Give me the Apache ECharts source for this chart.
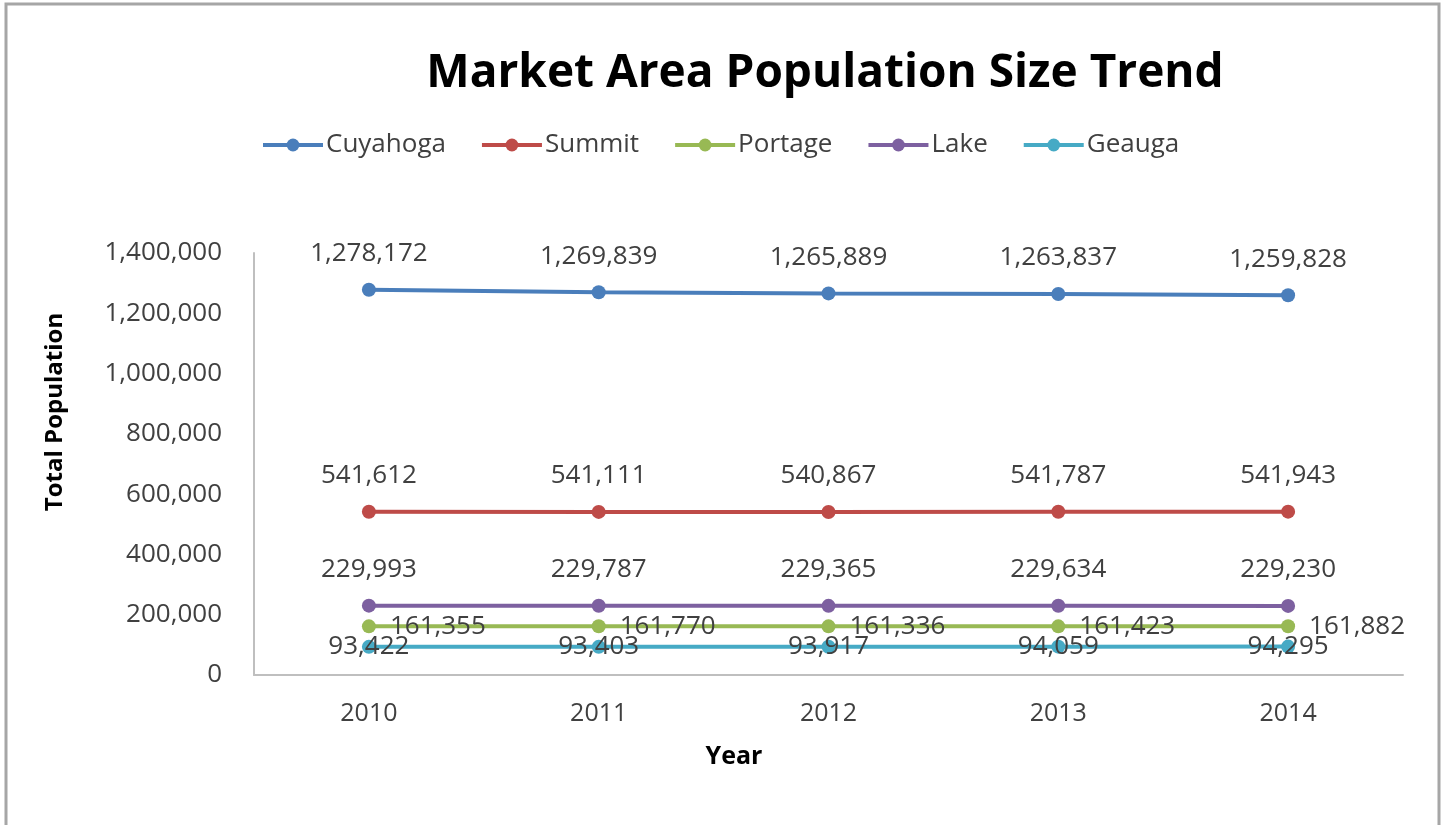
<!DOCTYPE html>
<html>
<head>
<meta charset="utf-8">
<script src="https://cdn.jsdelivr.net/npm/echarts@6/dist/echarts.min.js"></script>
<style>
html,body{margin:0;padding:0;background:#fff;}
#chart{width:1445px;height:825px;}
</style>
</head>
<body>
<div id="chart"></div>
<script>
const years = ['2010', '2011', '2012', '2013', '2014'];
const cuyahoga = [1278172, 1269839, 1265889, 1263837, 1259828];
const summit = [541612, 541111, 540867, 541787, 541943];
const portage = [161355, 161770, 161336, 161423, 161882];
const lake = [229993, 229787, 229365, 229634, 229230];
const geauga = [93422, 93403, 93917, 94059, 94295];
const yTicks = [0, 200000, 400000, 600000, 800000, 1000000, 1200000, 1400000];

const FONT = 'Open Sans';
const fmt = v => v.toLocaleString('en-US');

function mk(name, data, color, pos, dist) {
  return {
    name: name,
    type: 'line',
    data: data,
    symbol: 'circle',
    symbolSize: 14,
    lineStyle: { width: 4, color: color },
    itemStyle: { color: color },
    label: {
      show: true,
      position: pos,
      distance: dist,
      formatter: p => fmt(p.value),
      fontFamily: FONT,
      fontSize: 26,
      color: '#404040'
    },
    emphasis: { disabled: true },
    animation: false
  };
}

const chart = echarts.init(document.getElementById('chart'));
chart.setOption({
  animation: false,
  title: {
    text: 'Market Area Population Size Trend',
    left: 820,
    textAlign: 'center',
    top: 46,
    textStyle: { fontFamily: FONT, fontSize: 46, fontWeight: 'bold', color: '#000' }
  },
  legend: {
    top: 127,
    left: 256,
    itemWidth: 60,
    itemHeight: 16,
    itemGap: 34,
    lineStyle: { width: 4 },
    textStyle: { fontFamily: FONT, fontSize: 26, color: '#404040', padding: [0, 0, 0, -2] },
    data: ['Cuyahoga', 'Summit', 'Portage', 'Lake', 'Geauga']
  },
  grid: { left: 254, right: 42, top: 253, bottom: 150, containLabel: false },
  xAxis: {
    type: 'category',
    data: years,
    boundaryGap: true,
    axisLine: { lineStyle: { color: '#bfbfbf', width: 2 } },
    axisTick: { show: false },
    axisLabel: { fontFamily: FONT, fontSize: 25, color: '#404040', margin: 26 }
  },
  yAxis: {
    type: 'value',
    min: yTicks[0],
    max: yTicks[yTicks.length - 1],
    interval: 200000,
    axisLine: { show: true, lineStyle: { color: '#bfbfbf', width: 2 } },
    axisTick: { show: false },
    splitLine: { show: false },
    axisLabel: { fontFamily: FONT, fontSize: 26, color: '#404040', margin: 32, formatter: v => fmt(v) }
  },
  graphic: [
    { type: 'rect', shape: { x: 6, y: 4, width: 1433, height: 840 }, style: { fill: 'none', stroke: '#a6a6a6', lineWidth: 3 }, silent: true },
    { type: 'text', x: 55, y: 412, rotation: Math.PI / 2, style: { text: 'Total Population', font: 'bold 24px "Open Sans"', fill: '#000', textAlign: 'center', textVerticalAlign: 'middle' } },
    { type: 'text', x: 734, y: 757, style: { text: 'Year', font: 'bold 25px "Open Sans"', fill: '#000', textAlign: 'center', textVerticalAlign: 'middle' } }
  ],
  series: [
    mk('Cuyahoga', cuyahoga, '#4A7EBB', 'top', 16),
    mk('Summit', summit, '#BE4B48', 'top', 16),
    mk('Portage', portage, '#98B954', 'right', 14),
    mk('Lake', lake, '#7D60A0', 'top', 16),
    mk('Geauga', geauga, '#46AAC5', 'inside', 0)
  ]
});
</script>
</body>
</html>
